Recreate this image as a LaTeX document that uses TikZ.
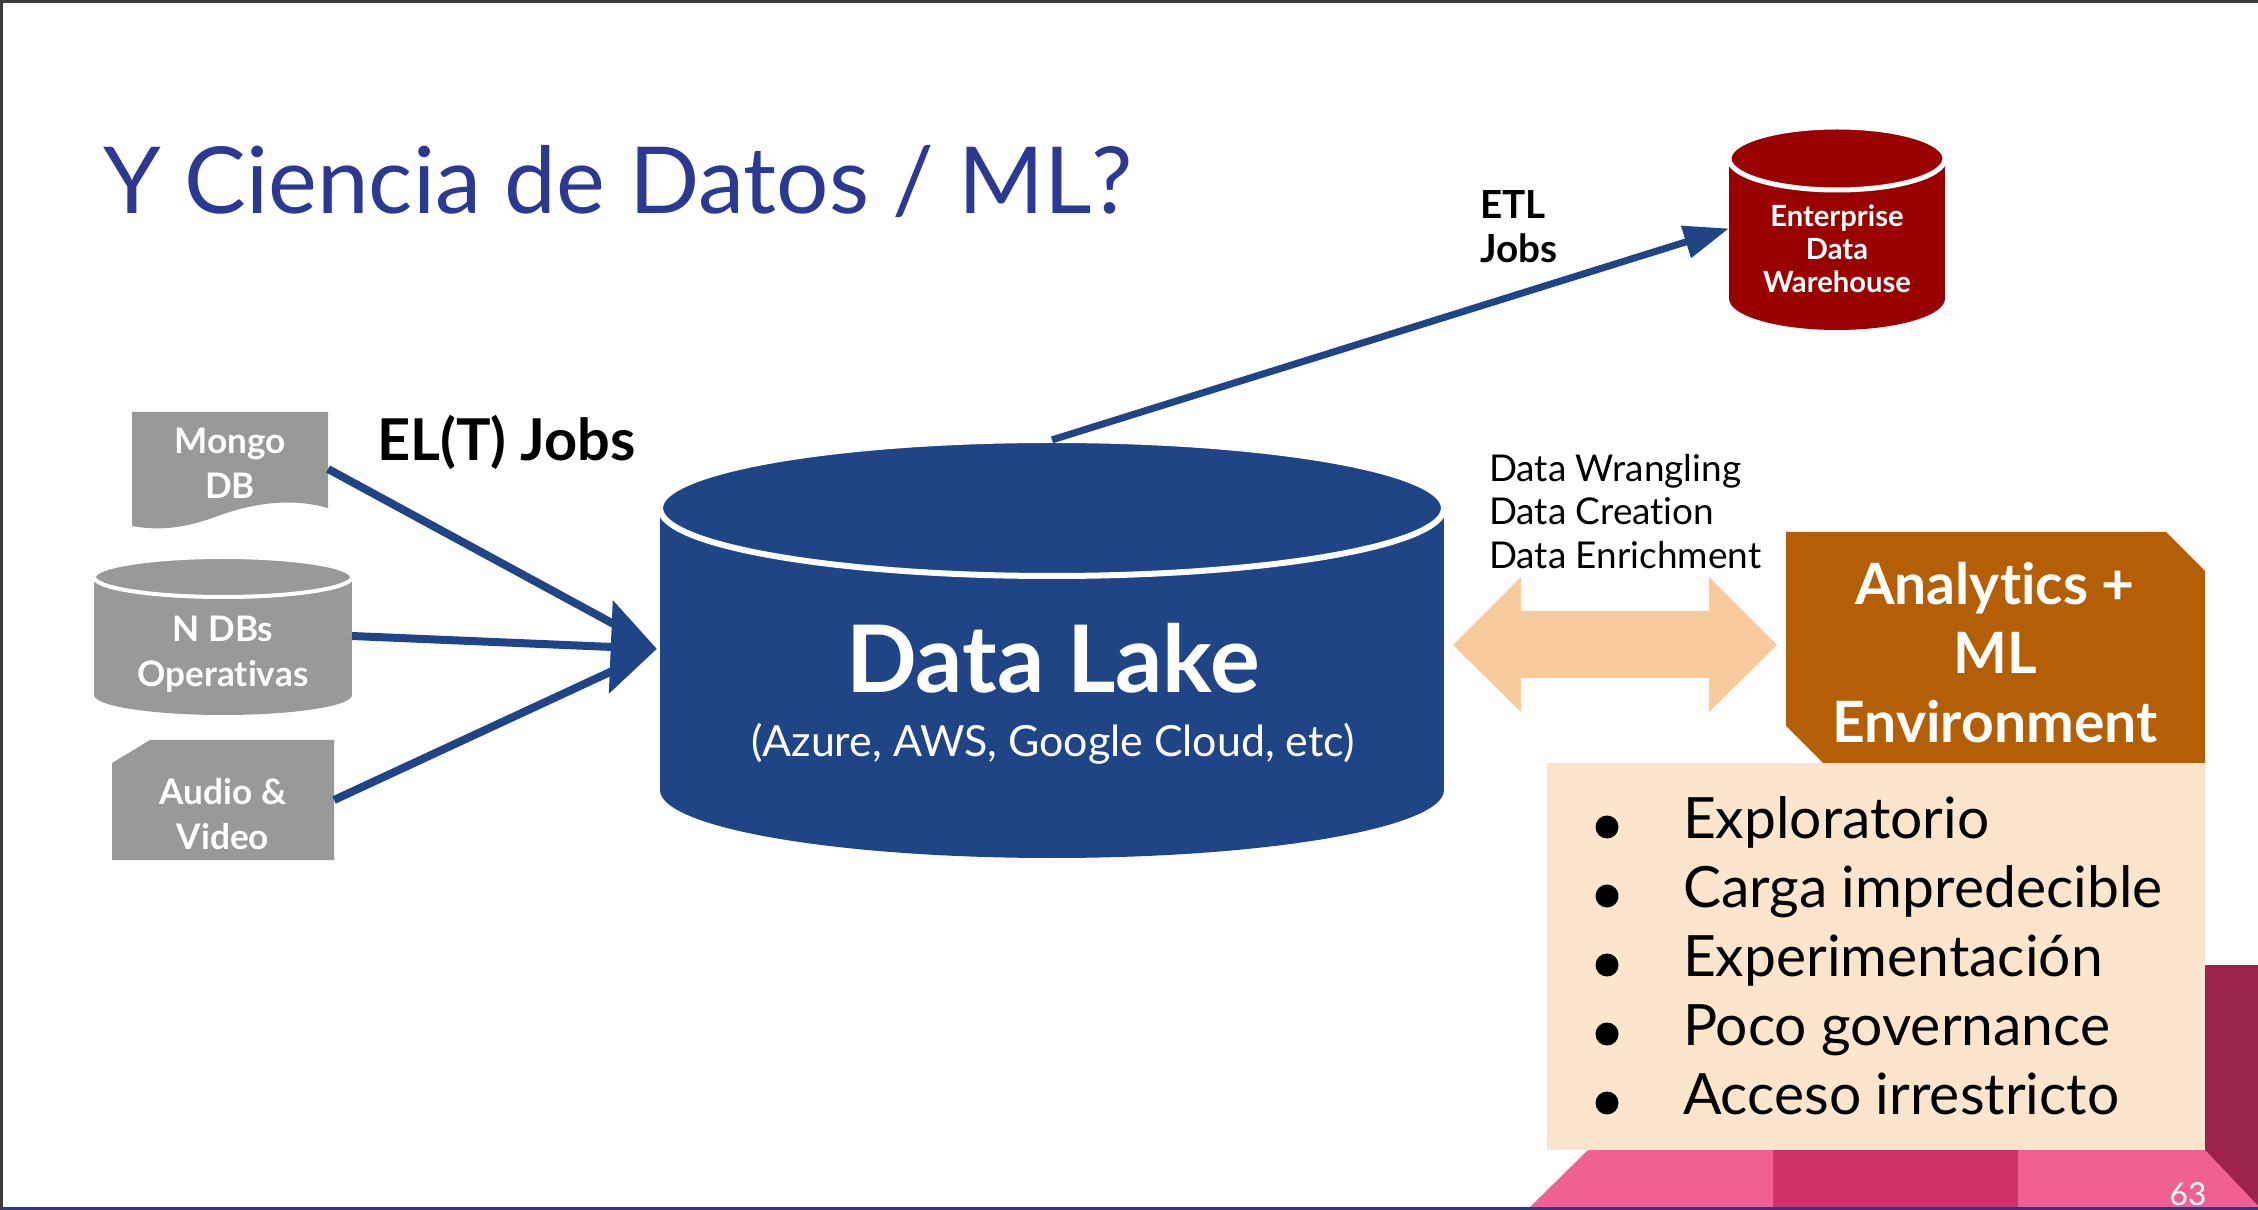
\documentclass[tikz,border=0pt]{standalone}
\usepackage{fontspec}
\setmainfont{Lato}[Ligatures=NoCommon]
\usetikzlibrary{arrows.meta}

\definecolor{titleblue}{HTML}{2B3990}
\definecolor{lakeblue}{HTML}{1F4587}
\definecolor{edwred}{HTML}{990000}
\definecolor{srcgray}{HTML}{999999}
\definecolor{peacharrow}{HTML}{F9CB9C}
\definecolor{envbrown}{HTML}{B45F06}
\definecolor{listpeach}{HTML}{FCE5CD}
\definecolor{pinklight}{HTML}{F06090}
\definecolor{pinkdark}{HTML}{D03266}
\definecolor{maroonband}{HTML}{9B234D}
\definecolor{framegray}{HTML}{3A3A3A}

\tikzset{
  anchorbox/.style={inner sep=0, outer sep=0},
  txt/.style={inner sep=0, outer sep=0, align=center},
  feed/.style={lakeblue, line width=0.08cm, shorten >=0.3cm},
  feedhead/.style={lakeblue, line width=0.08cm, -{Triangle[length=0.46cm, width=0.92cm]}, shorten >=0.03cm},
  etljob/.style={lakeblue, line width=0.07cm, -{Triangle[length=0.45cm, width=0.32cm]}}
}

\begin{document}
\begin{tikzpicture}[x=0.01cm, y=-0.01cm]
\useasboundingbox (0,0) rectangle (2258,1210);
%\draw[red] (0,0) grid[step=100] (2258,1210);

% footer bands
\fill[maroonband] (2205,965) rectangle (2258,1210);
\fill[pinklight] (2018,1150) -- (2205,1150) -- (2262,1210) -- (2018,1210) -- cycle;
\fill[pinkdark] (1773,1150) rectangle (2018,1210);
\fill[pinklight] (1588,1150) -- (1773,1150) -- (1773,1210) -- (1527,1210) -- cycle;
\node[txt, anchor=base, text=white, font=\fontsize{9}{11}\selectfont] (page) at (2188,1205) {63};
\fill[titleblue] (0,1207) rectangle (2258,1210);
\draw[framegray, line width=0.03cm] (1.5,1210) -- (1.5,1.5) -- (2258,1.5);

\node[txt, anchor=base west, text=titleblue, font=\fontsize{26.3}{30}\selectfont] (title) at (103,214) {Y Ciencia de Datos / ML?};

% sources
\fill[srcgray] (132,412) -- (328,412) -- (328,508) .. controls (285,496) and (245,506) .. (215,517) .. controls (185,528) and (160,531) .. (132,526) -- cycle;
\fill[srcgray] (94,577) rectangle (352,695);
\fill[srcgray] (223,695) ellipse [x radius=129, y radius=20];
\filldraw[fill=srcgray, draw=white, line width=0.04cm] (223,577) ellipse [x radius=129, y radius=20];
\fill[srcgray] (112,763) -- (150,740) -- (334,740) -- (334,860) -- (112,860) -- cycle;

\node[anchorbox, minimum width=1.96cm, minimum height=1.12cm] (mongo) at (230,469) {};
\node[anchorbox, minimum width=2.58cm, minimum height=1.58cm] (ndbs) at (223,636) {};
\node[anchorbox, minimum width=2.22cm, minimum height=1.20cm] (audio) at (223,800) {};

\node[txt, anchor=north, text=white, font=\bfseries\fontsize{10}{12.8}\selectfont] (mongolbl) at (230,428) {Mongo\\DB};
\node[txt, anchor=north, text=white, font=\bfseries\fontsize{10}{12.8}\selectfont] (ndbslbl) at (223,616) {N DBs\\Operativas};
\node[txt, anchor=north, text=white, font=\bfseries\fontsize{10}{12.8}\selectfont] (audiolbl) at (223,778) {Audio \&\\Video};

% data lake
\fill[lakeblue] (660,508) rectangle (1444,790);
\fill[lakeblue] (1052,790) ellipse [x radius=392, y radius=68];
\filldraw[fill=lakeblue, draw=white, line width=0.06cm] (1052,508) ellipse [x radius=392, y radius=68];
\node[anchorbox, minimum width=7.84cm, minimum height=4.18cm] (lake) at (1052,649) {};
\node[txt, anchor=base, text=white, font=\bfseries\fontsize{26.5}{30}\selectfont] (lakename) at (1053,693) {Data Lake};
\node[txt, anchor=base, text=white, font=\fontsize{12.2}{14}\selectfont] (lakesub) at (1053,757) {(Azure, AWS, Google Cloud, etc)};

% warehouse
\fill[edwred] (1729,158.5) rectangle (1945,298.5);
\fill[edwred] (1837,298.5) ellipse [x radius=108, y radius=31.5];
\filldraw[fill=edwred, draw=white, line width=0.05cm] (1837,158.5) ellipse [x radius=108, y radius=31.5];
\node[anchorbox, minimum width=2.16cm, minimum height=2.03cm] (edw) at (1837,228.5) {};
\node[txt, anchor=north, text=white, font=\bfseries\fontsize{8.3}{9.4}\selectfont] (edwlbl) at (1837,205) {Enterprise\\Data\\Warehouse};

% analytics env
\fill[listpeach] (1547,763) rectangle (2205,1150);
\fill[envbrown] (1786,532) -- (2166,532) -- (2205,571) -- (2205,763) -- (1823,763) -- (1786,726) -- cycle;
\node[anchorbox, minimum width=4.19cm, minimum height=2.31cm] (env) at (1995.5,647.5) {};
\node[txt, anchor=north, text=white, font=\bfseries\fontsize{16.2}{19.6}\selectfont] (envlbl) at (1995,562) {Analytics +\\ML\\Environment};
\foreach \entry [count=\i] in {Exploratorio, Carga impredecible, Experimentación, Poco governance, Acceso irrestricto} {
  \fill (1607,{827+69*(\i-1)}) circle [radius=11.5];
  \node[txt, anchor=base west, font=\fontsize{16.2}{18}\selectfont] (item\i) at (1683,{838+69*(\i-1)}) {\entry};
}

% double arrow
\fill[peacharrow] (1453,645) -- (1521,577) -- (1521,611) -- (1709,611) -- (1709,577) -- (1777,645) -- (1709,712) -- (1709,678) -- (1521,678) -- (1521,712) -- cycle;
\node[txt, anchor=north west, align=left, font=\fontsize{10.5}{12.4}\selectfont] (wrangling) at (1489,454) {Data Wrangling\\Data Creation\\Data Enrichment};

% jobs
\draw[feed] (mongo.east) -- (lake.west);
\draw[feed] (audio.east) -- (lake.west);
\draw[feedhead] (ndbs.east) -- (lake.west);
\node[txt, anchor=base west, font=\bfseries\fontsize{16.4}{18}\selectfont] (eltlbl) at (377,461) {EL(T) Jobs};
\draw[etljob] (lake.north) -- (edw.west);
\node[txt, anchor=north west, align=left, font=\bfseries\fontsize{11}{12.5}\selectfont] (etllbl) at (1480,191) {ETL\\Jobs};
\end{tikzpicture}
\end{document}
